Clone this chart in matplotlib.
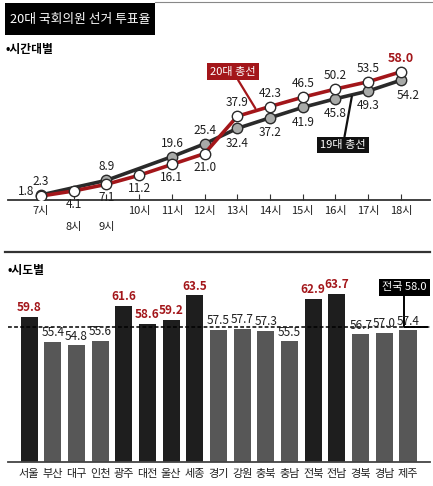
import numpy as np
import matplotlib
matplotlib.use("Agg")
import matplotlib.pyplot as plt
from matplotlib.patches import Rectangle
from matplotlib.lines import Line2D

plt.rcParams['font.family'] = ['Noto Sans CJK KR', 'DejaVu Sans']

# 시간대별 투표율
hours = [7, 8, 9, 10, 11, 12, 13, 14, 15, 16, 17, 18]
hour_labels = ['7시', '8시', '9시', '10시', '11시', '12시', '13시', '14시', '15시', '16시', '17시', '18시']
turnout_20 = [1.8, 4.1, 7.1, 11.2, 16.1, 21.0, 37.9, 42.3, 46.5, 50.2, 53.5, 58.0]
hours_19 = [7, 9, 11, 12, 13, 14, 15, 16, 17, 18]
turnout_19 = [2.3, 8.9, 19.6, 25.4, 32.4, 37.2, 41.9, 45.8, 49.3, 54.2]

# 시도별 투표율
regions = ['서울', '부산', '대구', '인천', '광주', '대전', '울산', '세종', '경기',
           '강원', '충북', '충남', '전북', '전남', '경북', '경남', '제주']
region_turnout = [59.8, 55.4, 54.8, 55.6, 61.6, 58.6, 59.2, 63.5, 57.5,
                  57.7, 57.3, 55.5, 62.9, 63.7, 56.7, 57.0, 57.4]
national = 58.0

RED = '#a3161a'
DARK = '#1e1e1e'
GRAY = '#575757'
W, H = 433, 486


def box(x0, y0, x1, y1):
    return [x0 / W, 1 - y1 / H, (x1 - x0) / W, (y1 - y0) / H]


fig = plt.figure(figsize=(W / 100, H / 100), dpi=100)

# 제목
fig.add_artist(Rectangle((5 / W, 1 - 35 / H), 150 / W, 32 / H, transform=fig.transFigure,
                         facecolor='black', edgecolor='none'))
fig.text(80 / W, 1 - 19 / H, '20대 국회의원 선거 투표율', color='white', fontsize=9.2,
         ha='center', va='center')
fig.add_artist(Line2D([155 / W, 1], [1 - 2 / H] * 2, transform=fig.transFigure,
                      color='#888888', lw=0.8))
fig.text(5 / W, 1 - 50 / H, '•시간대별', fontsize=8.5, fontweight='bold', va='center')
fig.add_artist(Line2D([5 / W, 430 / W], [1 - 252 / H] * 2, transform=fig.transFigure,
                      color='#333333', lw=1.6))
fig.text(8 / W, 1 - 270 / H, '•시도별', fontsize=8.5, fontweight='bold', va='center')

# 상단: 시간대별 선 그래프
ax = fig.add_axes(box(8, 55, 430, 200))
ax.set_xlim(5.99, 18.89)
ax.set_ylim(0, 65.6)
ax.plot(hours_19, turnout_19, color='#2a2a2a', lw=2.6, marker='o', ms=7.5,
        mfc='#a8aaa8', mec='#2a2a2a', mew=1.0, zorder=3)
ax.plot(hours, turnout_20, color=RED, lw=2.6, marker='o', ms=7.5,
        mfc='white', mec='#2a2a2a', mew=1.0, zorder=4)

for h, v in zip(hours, turnout_20):
    if h == 7:
        ax.annotate(f'{v:.1f}', (h, v), xytext=(-5, 3), textcoords='offset points',
                    ha='right', va='center', fontsize=8.5, color=DARK)
    elif h < 13:
        ax.annotate(f'{v:.1f}', (h, v), xytext=(0, -5), textcoords='offset points',
                    ha='center', va='top', fontsize=8.5, color=DARK)
    elif h == 18:
        ax.annotate(f'{v:.1f}', (h, v), xytext=(0, 5), textcoords='offset points',
                    ha='center', va='bottom', fontsize=9, color=RED, fontweight='bold')
    else:
        ax.annotate(f'{v:.1f}', (h, v), xytext=(0, 5), textcoords='offset points',
                    ha='center', va='bottom', fontsize=8.5, color=DARK)
for h, v in zip(hours_19, turnout_19):
    if h < 13:
        ax.annotate(f'{v:.1f}', (h, v), xytext=(0, 5), textcoords='offset points',
                    ha='center', va='bottom', fontsize=8.5, color=DARK)
    else:
        dx = 5 if h == 18 else 0
        ax.annotate(f'{v:.1f}', (h, v), xytext=(dx, -6), textcoords='offset points',
                    ha='center', va='top', fontsize=8.5, color=DARK)

ax.annotate('20대 총선', xy=(13.55, 41.5), xytext=(12.87, 58.0), color='white', fontsize=8,
            ha='center', va='center',
            bbox=dict(boxstyle='square,pad=0.3', fc=RED, ec='none'),
            arrowprops=dict(arrowstyle='-', color=RED, lw=1.6, shrinkA=0, shrinkB=0))
ax.annotate('19대 총선', xy=(16.5, 46.8), xytext=(16.23, 24.9), color='white', fontsize=8,
            ha='center', va='center',
            bbox=dict(boxstyle='square,pad=0.3', fc='#111111', ec='none'),
            arrowprops=dict(arrowstyle='-', color='#111111', lw=1.6, shrinkA=0, shrinkB=0))

ax.set_xticks(hours)
ax.set_xticklabels(hour_labels, fontsize=8, color=DARK)
ax.tick_params(axis='x', direction='in', length=4, width=0.8, color='#333333', pad=4)
# 8시, 9시 라벨은 한 줄 아래로
for t in ax.xaxis.get_major_ticks()[1:3]:
    t.set_pad(16)
ax.set_yticks([])
for s in ['top', 'right', 'left']:
    ax.spines[s].set_visible(False)
ax.spines['bottom'].set_color('#333333')
ax.spines['bottom'].set_linewidth(1.3)
ax.patch.set_alpha(0)

# 하단: 시도별 막대 그래프
bx = fig.add_axes(box(8, 285, 430, 462))
x = np.arange(len(regions))
bx.set_xlim(-0.89, 16.93)
bx.set_ylim(34.5, 65.3)
colors = [DARK if v > national else GRAY for v in region_turnout]
bx.bar(x, region_turnout, width=0.72, color=colors, zorder=2)
bx.axhline(national, color='black', lw=1.1, ls=(0, (2.5, 1.5)), zorder=3)
for xi, v in zip(x, region_turnout):
    bx.annotate(f'{v:.1f}', (xi, v), xytext=(0, 2), textcoords='offset points',
                ha='center', va='bottom', fontsize=8.5,
                color=RED if v > national else DARK,
                fontweight='bold' if v > national else 'normal', zorder=4)

bx.annotate('전국 58.0', xy=(16.86, national), xytext=(15.85, 64.9), color='white',
            fontsize=8, ha='center', va='center', annotation_clip=False,
            bbox=dict(boxstyle='square,pad=0.3', fc='black', ec='none'),
            arrowprops=dict(arrowstyle='-', color='black', lw=1.4, shrinkA=0, shrinkB=0,
                            connectionstyle='angle,angleA=90,angleB=0,rad=0'))

bx.set_xticks(x)
bx.set_xticklabels(regions, fontsize=8, color=DARK)
bx.tick_params(axis='x', length=0, pad=5)
bx.set_yticks([])
for s in ['top', 'right', 'left']:
    bx.spines[s].set_visible(False)
bx.spines['bottom'].set_color('#444444')
bx.spines['bottom'].set_linewidth(1.3)
bx.patch.set_alpha(0)

fig.savefig('out.png', dpi=100)
